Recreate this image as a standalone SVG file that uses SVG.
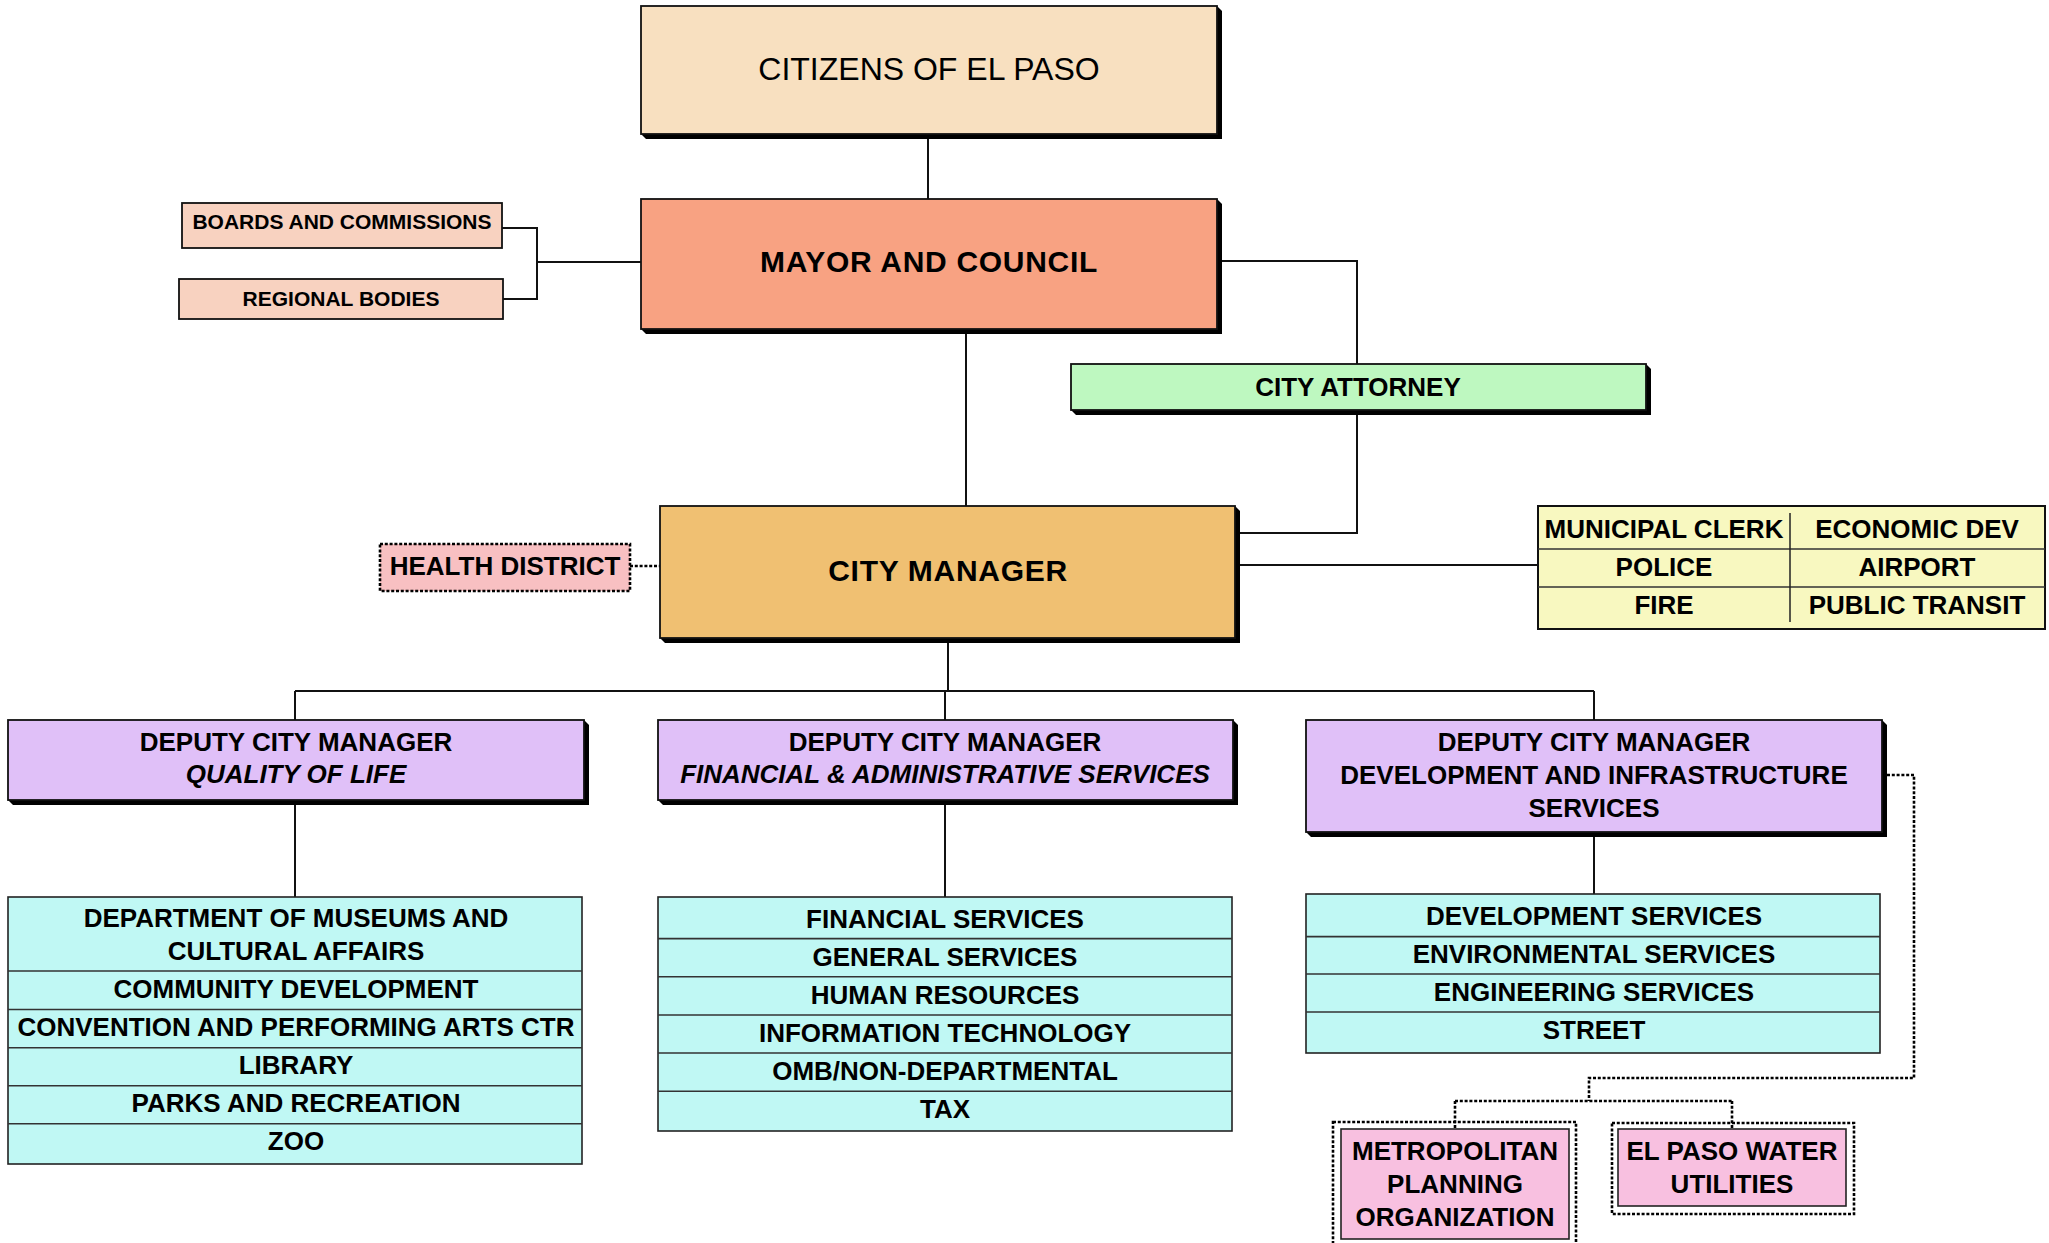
<svg xmlns="http://www.w3.org/2000/svg" width="2049" height="1243" viewBox="0 0 2049 1243">
<style>
  text { font-family: "Liberation Sans", Arial, sans-serif; fill: #000; text-anchor: middle; }
  .b { font-weight: bold; font-size: 26px; }
  .bi { font-weight: bold; font-style: italic; font-size: 26px; }
  .big { font-weight: bold; font-size: 30px; letter-spacing: 0.7px; }
  .reg { font-size: 32px; }
  .sm { font-weight: bold; font-size: 21px; }
  .box { stroke: #111; stroke-width: 1.8; }
  .shadow { fill: #000; }
  .line { fill: none; stroke: #111; stroke-width: 2; }
  .dot { fill: none; stroke: #000; stroke-width: 2.6; stroke-dasharray: 3 1.8; }
  .row { stroke: #333; stroke-width: 1.6; }
</style>

<g id="connectors">
  <path class="line" d="M928 134 V199"/>
  <path class="line" d="M502 228 H537 V299 H503 M537 262 H641"/>
  <path class="line" d="M1222 261 H1357 V364"/>
  <path class="line" d="M1357 415 V533 H1240"/>
  <path class="line" d="M966 334 V506"/>
  <path class="line" d="M1240 565 H1538"/>
  <path class="dot" d="M630 566 H660"/>
  <path class="line" d="M948 642 V691 M295 691 H1594 M295 691 V720 M945 691 V720 M1594 691 V720"/>
  <path class="line" d="M295 805 V897 M945 805 V897 M1594 837 V894"/>
  <path class="dot" d="M1887 775 H1914 V1078 H1589 V1101 M1455 1101 H1732 M1455 1101 V1129 M1732 1101 V1129"/>
</g>

<g id="citizens">
  <polygon class="shadow" points="1217,6 1222,11 1222,139 646,139 641,134"/>
  <rect class="box" x="641" y="6" width="576" height="128" fill="#F8E0C0"/>
  <text class="reg" x="929" y="80">CITIZENS OF EL PASO</text>
</g>

<g id="mayor">
  <polygon class="shadow" points="1217,199 1222,204 1222,334 646,334 641,329"/>
  <rect class="box" x="641" y="199" width="576" height="130" fill="#F8A282"/>
  <text class="big" x="929" y="272">MAYOR AND COUNCIL</text>
</g>

<g id="boards">
  <rect class="box" x="182" y="203" width="320" height="45" fill="#F8D2C0" stroke-width="1.5"/>
  <text class="sm" x="342" y="229">BOARDS AND COMMISSIONS</text>
</g>

<g id="regional">
  <rect class="box" x="179" y="279" width="324" height="40" fill="#F8D2C0" stroke-width="1.5"/>
  <text class="sm" x="341" y="306">REGIONAL BODIES</text>
</g>

<g id="attorney">
  <polygon class="shadow" points="1646,364 1651,369 1651,415 1076,415 1071,410"/>
  <rect class="box" x="1071" y="364" width="575" height="46" fill="#BEF8C0"/>
  <text class="b" x="1358" y="396">CITY ATTORNEY</text>
</g>

<g id="health">
  <rect x="380" y="544" width="250" height="47" fill="#F8C0C2" stroke="#000" stroke-width="2.6" stroke-dasharray="3 1.8"/>
  <text class="b" x="505" y="575">HEALTH DISTRICT</text>
</g>

<g id="citymanager">
  <polygon class="shadow" points="1235,506 1240,511 1240,643 665,643 660,638"/>
  <rect class="box" x="660" y="506" width="575" height="132" fill="#F0C072"/>
  <text class="big" x="948" y="581">CITY MANAGER</text>
</g>

<g id="direct-reports">
  <rect x="1538" y="506" width="507" height="123" fill="#F8F8C0" stroke="#111" stroke-width="2"/>
  <line class="row" x1="1538" y1="549" x2="2045" y2="549"/>
  <line class="row" x1="1538" y1="587" x2="2045" y2="587"/>
  <line x1="1790" y1="513" x2="1790" y2="622" stroke="#222" stroke-width="1.5"/>
  <text class="b" x="1664" y="538">MUNICIPAL CLERK</text>
  <text class="b" x="1917" y="538">ECONOMIC DEV</text>
  <text class="b" x="1664" y="576">POLICE</text>
  <text class="b" x="1917" y="576">AIRPORT</text>
  <text class="b" x="1664" y="614">FIRE</text>
  <text class="b" x="1917" y="614">PUBLIC TRANSIT</text>
</g>

<g id="dcm-quality">
  <polygon class="shadow" points="584,720 589,725 589,805 13,805 8,800"/>
  <rect class="box" x="8" y="720" width="576" height="80" fill="#E0C0F8"/>
  <text class="b" x="296" y="751">DEPUTY CITY MANAGER</text>
  <text class="bi" x="296" y="783">QUALITY OF LIFE</text>
</g>

<g id="dcm-financial">
  <polygon class="shadow" points="1233,720 1238,725 1238,805 663,805 658,800"/>
  <rect class="box" x="658" y="720" width="575" height="80" fill="#E0C0F8"/>
  <text class="b" x="945" y="751">DEPUTY CITY MANAGER</text>
  <text class="bi" x="945" y="783">FINANCIAL &amp; ADMINISTRATIVE SERVICES</text>
</g>

<g id="dcm-development">
  <polygon class="shadow" points="1882,720 1887,725 1887,837 1311,837 1306,832"/>
  <rect class="box" x="1306" y="720" width="576" height="112" fill="#E0C0F8"/>
  <text class="b" x="1594" y="751">DEPUTY CITY MANAGER</text>
  <text class="b" x="1594" y="784">DEVELOPMENT AND INFRASTRUCTURE</text>
  <text class="b" x="1594" y="817">SERVICES</text>
</g>

<g id="quality-depts">
  <rect x="8" y="897" width="574" height="267" fill="#C0F8F4" stroke="#222" stroke-width="1.6"/>
  <line class="row" x1="8" y1="971" x2="582" y2="971"/>
  <line class="row" x1="8" y1="1009.5" x2="582" y2="1009.5"/>
  <line class="row" x1="8" y1="1047.7" x2="582" y2="1047.7"/>
  <line class="row" x1="8" y1="1085.8" x2="582" y2="1085.8"/>
  <line class="row" x1="8" y1="1123.8" x2="582" y2="1123.8"/>
  <text class="b" x="296" y="927">DEPARTMENT OF MUSEUMS AND</text>
  <text class="b" x="296" y="960">CULTURAL AFFAIRS</text>
  <text class="b" x="296" y="998">COMMUNITY DEVELOPMENT</text>
  <text class="b" x="296" y="1036">CONVENTION AND PERFORMING ARTS CTR</text>
  <text class="b" x="296" y="1074">LIBRARY</text>
  <text class="b" x="296" y="1112">PARKS AND RECREATION</text>
  <text class="b" x="296" y="1150">ZOO</text>
</g>

<g id="financial-depts">
  <rect x="658" y="897" width="574" height="234" fill="#C0F8F4" stroke="#222" stroke-width="1.6"/>
  <line class="row" x1="658" y1="938.6" x2="1232" y2="938.6"/>
  <line class="row" x1="658" y1="976.8" x2="1232" y2="976.8"/>
  <line class="row" x1="658" y1="1015" x2="1232" y2="1015"/>
  <line class="row" x1="658" y1="1053" x2="1232" y2="1053"/>
  <line class="row" x1="658" y1="1091.2" x2="1232" y2="1091.2"/>
  <text class="b" x="945" y="928">FINANCIAL SERVICES</text>
  <text class="b" x="945" y="966">GENERAL SERVICES</text>
  <text class="b" x="945" y="1004">HUMAN RESOURCES</text>
  <text class="b" x="945" y="1042">INFORMATION TECHNOLOGY</text>
  <text class="b" x="945" y="1080">OMB/NON-DEPARTMENTAL</text>
  <text class="b" x="945" y="1118">TAX</text>
</g>

<g id="development-depts">
  <rect x="1306" y="894" width="574" height="159" fill="#C0F8F4" stroke="#222" stroke-width="1.6"/>
  <line class="row" x1="1306" y1="936.6" x2="1880" y2="936.6"/>
  <line class="row" x1="1306" y1="974" x2="1880" y2="974"/>
  <line class="row" x1="1306" y1="1012" x2="1880" y2="1012"/>
  <text class="b" x="1594" y="925">DEVELOPMENT SERVICES</text>
  <text class="b" x="1594" y="963">ENVIRONMENTAL SERVICES</text>
  <text class="b" x="1594" y="1001">ENGINEERING SERVICES</text>
  <text class="b" x="1594" y="1039">STREET</text>
</g>

<g id="mpo">
  <rect class="dot" x="1333" y="1122" width="243" height="130"/>
  <rect x="1341" y="1129" width="228" height="110" fill="#F8C0E0" stroke="#222" stroke-width="1.6"/>
  <text class="b" x="1455" y="1160">METROPOLITAN</text>
  <text class="b" x="1455" y="1193">PLANNING</text>
  <text class="b" x="1455" y="1226">ORGANIZATION</text>
</g>

<g id="epwu">
  <rect class="dot" x="1612" y="1123" width="242" height="91"/>
  <rect x="1618" y="1129" width="228" height="77" fill="#F8C0E0" stroke="#222" stroke-width="1.6"/>
  <text class="b" x="1732" y="1160">EL PASO WATER</text>
  <text class="b" x="1732" y="1193">UTILITIES</text>
</g>
</svg>
